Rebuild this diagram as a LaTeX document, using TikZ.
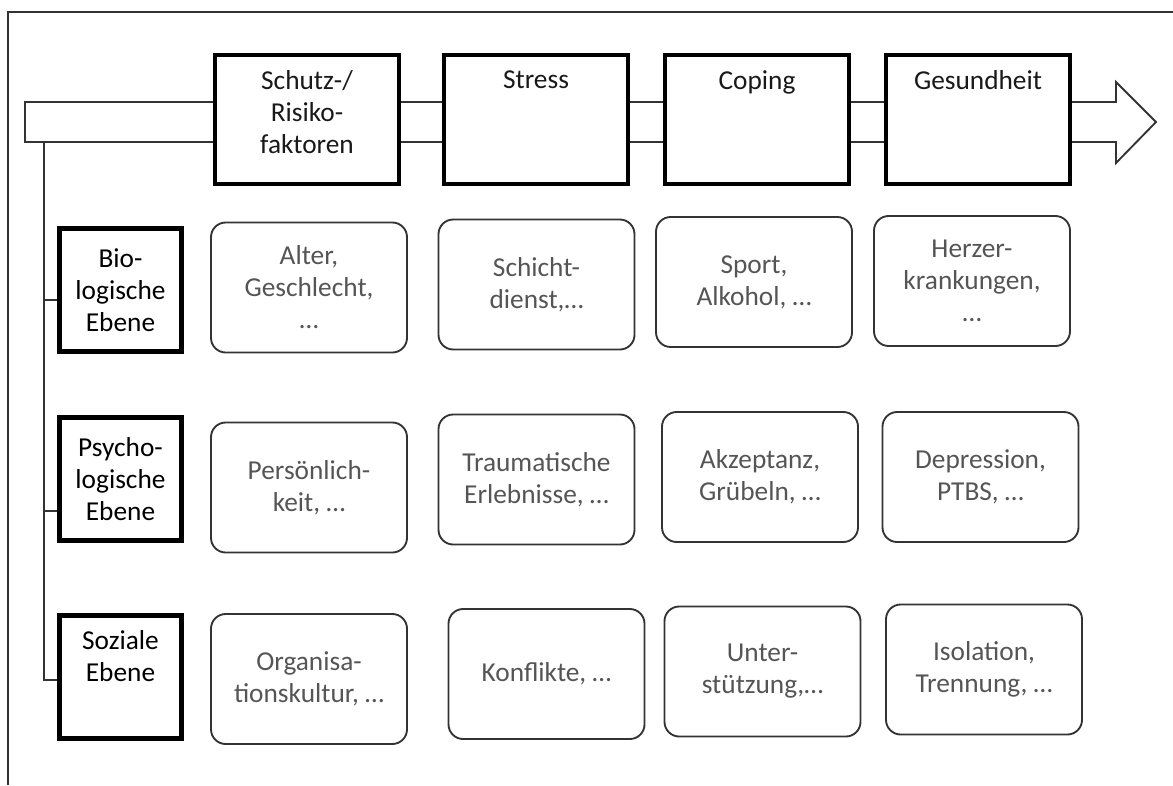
\documentclass[tikz,border=0pt]{standalone}
\usepackage{fontspec}
\setmainfont{Carlito}
\usepackage{tikz}
\usetikzlibrary{positioning,calc}
\definecolor{frameStroke}{HTML}{333333}
\definecolor{factorText}{HTML}{555555}

\begin{document}
\begin{tikzpicture}[
    x=0.75pt, y=-0.75pt,
    box/.style={rectangle, draw, align=center, font=\fontsize{20.5}{24}\selectfont},
    phase/.style={box, fill=white, line width=3pt, minimum width=138pt, minimum height=97pt},
    phaselabel/.style={anchor=north, align=center, inner sep=0pt, yshift=-13pt, font=\fontsize{20.5}{24}\selectfont, text=black!90},
    level/.style={box, line width=3.5pt, minimum width=91.5pt, minimum height=92pt, text=black},
    factor/.style={box, rounded corners=11pt, draw=frameStroke, line width=1.4pt, minimum width=147pt, minimum height=97.5pt, text=factorText},
    link/.style={line width=1.4pt, draw=frameStroke}
]
    \useasboundingbox (0,0) rectangle (1173,785);

    % Frame
    \draw[link] (8,785) -- (8,12) -- (1173,12);

    % Time axis
    \draw[link, fill=white] (25,102) -- (1116,102) -- (1116,82) -- (1156,122)
        -- (1116,163) -- (1116,142) -- (25,142) -- cycle;

    % Phases
    \node[phase, label={[phaselabel]north:{Schutz-/\\Risiko-\\faktoren}}] (risk) at (307,119.5) {};
    \node[phase, right=30.75pt of risk, label={[phaselabel]north:Stress}] (stress) {};
    \node[phase, right=24.75pt of stress, label={[phaselabel]north:Coping}] (coping) {};
    \node[phase, right=24.75pt of coping, label={[phaselabel]north:Gesundheit}] (health) {};

    % Levels
    \node[level] (bio) at (120.5,290) {Bio-\\logische\\Ebene};
    \node[level] (psy) at (120.5,479) {Psycho-\\logische\\Ebene};
    \node[level] (soz) at (120.5,677) {Soziale\\Ebene\\\strut};

    % Factors
    \node[factor] (age) at (309,287.5) {Alter,\\Geschlecht,\\…};
    \node[factor] (shift) at (536.5,284.5) {Schicht-\\dienst,…};
    \node[factor] (sport) at (754,282) {Sport,\\Alkohol, …};
    \node[factor] (heart) at (972,281) {Herzer-\\krankungen,\\…};

    \node[factor] (person) at (309,487.5) {Persönlich-\\keit, …};
    \node[factor] (trauma) at (536.5,479.5) {Traumatische\\Erlebnisse, …};
    \node[factor] (accept) at (760,477) {Akzeptanz,\\Grübeln, …};
    \node[factor] (depress) at (980.5,477) {Depression,\\PTBS, …};

    \node[factor] (culture) at (309,679) {Organisa-\\tionskultur, …};
    \node[factor] (conflict) at (546.5,674) {Konflikte, …};
    \node[factor] (support) at (762.5,671.5) {Unter-\\stützung,…};
    \node[factor] (isol) at (984,669.5) {Isolation,\\Trennung, …};

    % Edges
    \coordinate (spine) at (44,142);
    \draw[link] (spine) |- ($(soz.west)+(0,3)$);
    \draw[link] (spine) |- ($(bio.west)+(0,10)$);
    \draw[link] (spine) |- ($(psy.west)+(0,32)$);

\end{tikzpicture}
\end{document}
